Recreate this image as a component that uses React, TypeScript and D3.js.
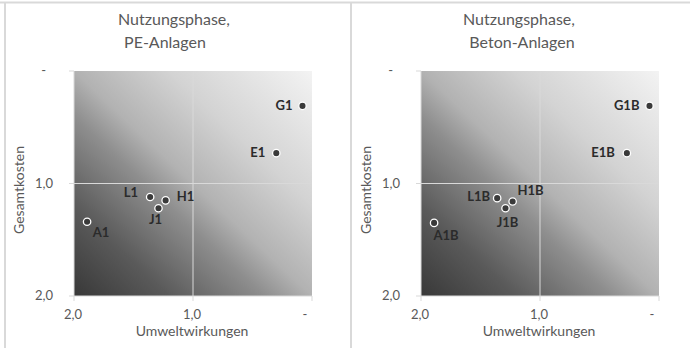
import React from "react";
import * as d3 from "d3";

// ---- data ----
const panelTitles1 = ["Nutzungsphase,", "Nutzungsphase,"];
const panelTitles2 = ["PE-Anlagen", "Beton-Anlagen"];

const labelsPE = ["G1", "E1", "L1", "H1", "J1", "A1"];
const envPE = [0.08, 0.3, 1.36, 1.23, 1.29, 1.89];
const costPE = [0.31, 0.73, 1.12, 1.15, 1.22, 1.34];

const labelsB = ["G1B", "E1B", "L1B", "H1B", "J1B", "A1B"];
const envB = [0.08, 0.27, 1.36, 1.23, 1.29, 1.89];
const costB = [0.31, 0.73, 1.13, 1.16, 1.22, 1.35];

const tickValues = [0, 1, 2];
const xAxisTitle = "Umweltwirkungen";
const yAxisTitle = "Gesamtkosten";

// ---- styling (label placement per point: dx, dy, anchor) ----
const placePE: [number, number, string][] = [
  [-10, 4, "end"],
  [-11, 4, "end"],
  [-12, 0, "end"],
  [11, 1, "start"],
  [-3, 16, "middle"],
  [14, 15, "middle"],
];
const placeB: [number, number, string][] = [
  [-10, 4, "end"],
  [-12, 4, "end"],
  [-7, 3, "end"],
  [18, -7, "middle"],
  [2, 19, "middle"],
  [12, 17, "middle"],
];
const titleX1 = [174, 172];
const titleX2 = [165, 175];

const W = 690;
const H = 348;
const FONT = "Lato, 'Open Sans', sans-serif";
const TXT = "#595959";

const fmt = (v: number) => (v === 0 ? "-" : d3.format(".1f")(v).replace(".", ","));

function Panel({ idx, ox }: { idx: number; ox: number }) {
  const labels = idx === 0 ? labelsPE : labelsB;
  const env = idx === 0 ? envPE : envB;
  const cost = idx === 0 ? costPE : costB;
  const place = idx === 0 ? placePE : placeB;

  const x = d3.scaleLinear().domain([2, 0]).range([74, 312]);
  const y = d3.scaleLinear().domain([0, 2]).range([71, 296]);
  const [x0, x1] = x.range();
  const [y0, y1] = y.range();
  const gid = `grad${idx}`;

  return (
    <g transform={`translate(${ox},0)`}>
      <defs>
        <linearGradient id={gid} x1="0" y1="1" x2="1" y2="0">
          <stop offset="0" stopColor="#383838" />
          <stop offset="0.2" stopColor="#5a5a5a" />
          <stop offset="0.4" stopColor="#8e8e8e" />
          <stop offset="0.5" stopColor="#b2b2b2" />
          <stop offset="0.7" stopColor="#d3d3d3" />
          <stop offset="1" stopColor="#f3f3f3" />
        </linearGradient>
      </defs>
      <text x={titleX1[idx]} y={25} textAnchor="middle" fontFamily={FONT} fontSize={16} fill={TXT}>
        {panelTitles1[idx]}
      </text>
      <text x={titleX2[idx]} y={48} textAnchor="middle" fontFamily={FONT} fontSize={16} fill={TXT}>
        {panelTitles2[idx]}
      </text>
      <rect x={x0} y={y0} width={x1 - x0} height={y1 - y0} fill={`url(#${gid})`} />
      {/* gridlines */}
      <line x1={x(1)} x2={x(1)} y1={y0} y2={y1} stroke="#d9d9d9" strokeWidth={1} />
      <line x1={x0} x2={x1} y1={y(1)} y2={y(1)} stroke="#d9d9d9" strokeWidth={1} />
      {/* axes */}
      <line x1={x0} x2={x0} y1={y0} y2={y1} stroke="#d9d9d9" strokeWidth={1} />
      <line x1={x0} x2={x1} y1={y1} y2={y1} stroke="#d9d9d9" strokeWidth={1} />
      {tickValues.map((t) => (
        <line key={`yt${t}`} x1={x0 - 5} x2={x0} y1={y(t)} y2={y(t)} stroke="#d9d9d9" strokeWidth={1} />
      ))}
      {tickValues.map((t) => (
        <line key={`xt${t}`} x1={x(t)} x2={x(t)} y1={y1} y2={y1 + 5} stroke="#d9d9d9" strokeWidth={1} />
      ))}
      {tickValues.map((t) => (
        <text
          key={`yl${t}`}
          x={t === 0 ? 46 : 53}
          y={y(t) + 4}
          textAnchor="end"
          fontFamily={FONT}
          fontSize={13}
          fill={TXT}
        >
          {fmt(t)}
        </text>
      ))}
      {tickValues.map((t) => (
        <text
          key={`xl${t}`}
          x={t === 0 ? x(t) - 7 : x(t) - 1}
          y={319}
          textAnchor="middle"
          fontFamily={FONT}
          fontSize={13}
          fill={TXT}
        >
          {fmt(t)}
        </text>
      ))}
      <text x={192} y={336} textAnchor="middle" fontFamily={FONT} fontSize={14} fill={TXT}>
        {xAxisTitle}
      </text>
      <text
        transform={`translate(24,190) rotate(-90)`}
        textAnchor="middle"
        fontFamily={FONT}
        fontSize={14}
        fill={TXT}
      >
        {yAxisTitle}
      </text>
      {labels.map((l, i) => (
        <g key={l}>
          <circle cx={x(env[i])} cy={y(cost[i])} r={3.7} fill="#3a3a3a" stroke="#ffffff" strokeWidth={1.3} />
          <text
            x={x(env[i]) + place[i][0]}
            y={y(cost[i]) + place[i][1]}
            textAnchor={place[i][2] as any}
            fontFamily={FONT}
            fontSize={13}
            fontWeight="bold"
            fill="#2b2b2b"
          >
            {l}
          </text>
        </g>
      ))}
    </g>
  );
}

export default function App() {
  return (
    <svg
      width={W}
      height={H}
      style={{ position: "absolute", left: 0, top: 0, background: "#ffffff" }}
    >
      <line x1={0} x2={W} y1={2.5} y2={2.5} stroke="#d9d9d9" strokeWidth={2} />
      <line x1={5} x2={5} y1={2} y2={H} stroke="#d9d9d9" strokeWidth={2} />
      <line x1={351} x2={351} y1={2} y2={H} stroke="#d9d9d9" strokeWidth={2} />
      <Panel idx={0} ox={0} />
      <Panel idx={1} ox={347} />
    </svg>
  );
}
